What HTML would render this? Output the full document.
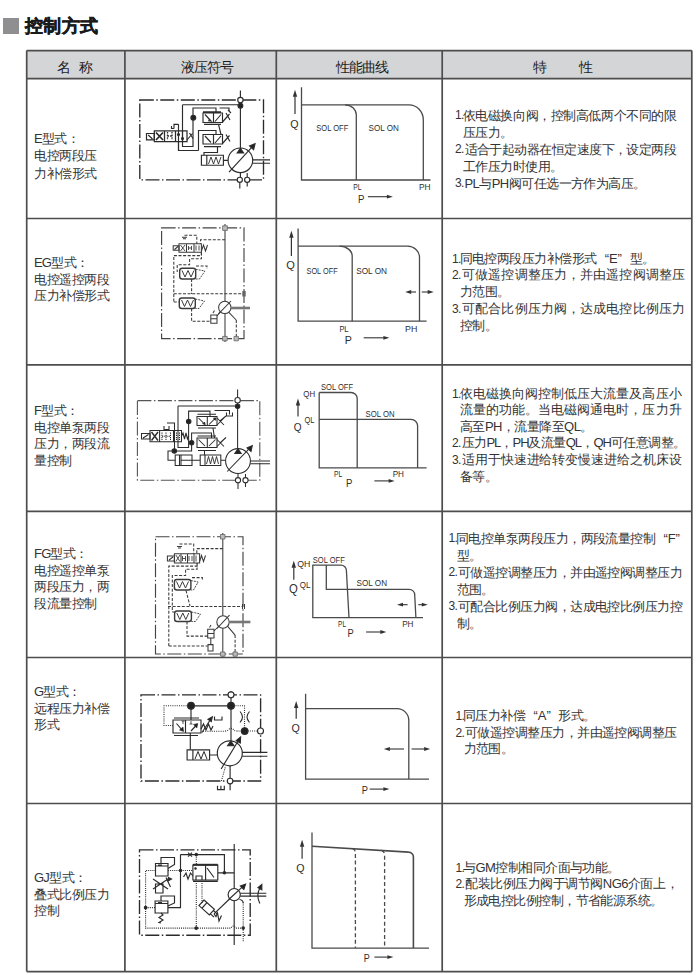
<!DOCTYPE html>
<html><head><meta charset="utf-8">
<style>
html,body{margin:0;padding:0;background:#fff;}
body{width:700px;height:975px;position:relative;overflow:hidden;font-family:"Liberation Sans",sans-serif;color:#333;}
.a{position:absolute;white-space:nowrap;}
.t{font-size:13px;line-height:16.7px;}
.nm{letter-spacing:-0.5px;}
.nm b{font-weight:normal;letter-spacing:-0.8px;}
.ft i{font-style:normal;display:inline-block;vertical-align:top;font-size:12px;letter-spacing:-0.6px;}
.ft i.n1{width:7.5px;}
.ft i.n2{width:9.5px;}
.ft{letter-spacing:-0.55px;}
.ft .c{padding-left:8px;}
.ft .j{text-align:justify;text-align-last:justify;}
.ft b{font-weight:normal;letter-spacing:-1.1px;}
.q1,.q2{display:inline-block;width:12.5px;vertical-align:top;}
.q1{text-align:right;text-align-last:right;padding-right:0.5px;width:12px;}
.q2{text-align:left;text-align-last:left;padding-left:0.5px;width:12px;}
.hd{font-size:14px;line-height:16px;color:#1e1e1e;}
svg{position:absolute;left:0;top:0;}
</style></head><body>
<div class="a" style="left:3px;top:18px;width:16px;height:15.5px;background:#8f8f91;"></div>
<div class="a" style="left:24.5px;top:14.7px;font-size:18px;line-height:22px;letter-spacing:0.6px;font-weight:bold;-webkit-text-stroke:0.45px #1a1a1a;color:#1a1a1a;">控制方式</div>

<svg width="700" height="975" viewBox="0 0 700 975">
<rect x="26.7" y="50.5" width="665" height="28.2" fill="#d4d5d7"/>
<g stroke="#4d4d4d" stroke-width="1.7" fill="none">
<path d="M26.7 50.6H691.8M26.7 78.6H691.8M26.7 218.5H691.8M26.7 364.8H691.8M26.7 511.3H691.8M26.7 657.5H691.8M26.7 803.5H691.8M26.7 971.6H691.8"/>
<path d="M26.7 50.6V971.6M124.9 50.6V971.6M276.3 50.6V971.6M442.2 50.6V971.6M691.8 50.6V971.6"/>
</g>
<!--CURVES-->
<g stroke="#4a4a4a" stroke-width="1.3" fill="none">
<path d="M301.5 87.3V180H430.5"/>
<path d="M301.5 104.8H409A14.3 15 0 0 1 423.3 119.8V180"/>
<path d="M345 104.8A11.3 10 0 0 1 356.3 114.8V180"/>
<path d="M298.1 228.4V321.2H426.6"/>
<path d="M298.1 246.2H407.6A12 11 0 0 1 419.5 257.2V321.2"/>
<path d="M339.6 246.2A12.6 10 0 0 1 352.2 256.2V321.2"/>
<path d="M319.2 392.5V467.9H426.6"/>
<path d="M319.2 392.5H351A6.2 6 0 0 1 357.2 398.5V467.9"/>
<path d="M319.2 419.3H411A6.6 6.5 0 0 1 417.6 425.8V467.9"/>
<path d="M312.8 564.8V617.7H423"/>
<path d="M312.8 565.1H341A5.4 5.5 0 0 1 346.4 570.6L349 617.7"/>
<path d="M326.3 565.1V589.3H409A5.6 5.5 0 0 1 414.7 594.8L415.9 617.7"/>
<path d="M305.6 693.8V779.1H429"/>
<path d="M305.6 708.7H397A11.8 11.8 0 0 1 408.8 720.5V779.1"/>
<path d="M312 832.6V948.1H429"/>
<path d="M312 846.2L408.5 852.1A4.9 5 0 0 1 413.4 857.1V948.1" stroke-width="1.6"/>
<path d="M352.5 848.6Q355.4 849.5 355.4 853V948" stroke-dasharray="4 2.6"/>
<path d="M381.5 850.4Q384.6 851.5 384.6 855V948" stroke-dasharray="4 2.6"/>
</g>
<g><path d="M295 114V96.2" stroke="#333" stroke-width="1.2"/><path d="M295 89.7L297.2 96.7L292.8 96.7Z" fill="#333"/><path d="M367.9 196.7H387.4" stroke="#333" stroke-width="1.1"/><path d="M392.9 196.7L386.9 194.79999999999998L386.9 198.6Z" fill="#333"/><path d="M291.4 255.9V237.2" stroke="#333" stroke-width="1.2"/><path d="M291.4 230.7L293.59999999999997 237.7L289.2 237.7Z" fill="#333"/><path d="M363.7 337.8H383.9" stroke="#333" stroke-width="1.1"/><path d="M389.4 337.8L383.4 335.90000000000003L383.4 339.7Z" fill="#333"/><path d="M416 292H410.7" stroke="#333" stroke-width="1.1"/><path d="M405.2 292L411.2 290.1L411.2 293.9Z" fill="#333"/><path d="M421.8 292H428.2" stroke="#333" stroke-width="1.1"/><path d="M433.7 292L427.7 290.1L427.7 293.9Z" fill="#333"/><path d="M298 416.6V404.9" stroke="#333" stroke-width="1.2"/><path d="M298 398.4L300.2 405.4L295.8 405.4Z" fill="#333"/><path d="M374.4 480.9H389.1" stroke="#333" stroke-width="1.1"/><path d="M394.6 480.9L388.6 479.0L388.6 482.79999999999995Z" fill="#333"/><path d="M293.8 579.8V567.3" stroke="#333" stroke-width="1.2"/><path d="M293.8 560.8L296.0 567.8L291.6 567.8Z" fill="#333"/><path d="M366.1 632H380.8" stroke="#333" stroke-width="1.1"/><path d="M386.3 632L380.3 630.1L380.3 633.9Z" fill="#333"/><path d="M407.6 604.7H402.5" stroke="#333" stroke-width="1.1"/><path d="M397 604.7L403 602.8000000000001L403 606.6Z" fill="#333"/><path d="M418.3 604.7H422.3" stroke="#333" stroke-width="1.1"/><path d="M427.8 604.7L421.8 602.8000000000001L421.8 606.6Z" fill="#333"/><path d="M296.2 718.7V707.4" stroke="#333" stroke-width="1.2"/><path d="M296.2 700.9L298.4 707.9L294.0 707.9Z" fill="#333"/><path d="M369.7 789.1H383.9" stroke="#333" stroke-width="1.1"/><path d="M389.4 789.1L383.4 787.2L383.4 791.0Z" fill="#333"/><path d="M404 749H389.4" stroke="#333" stroke-width="1.1"/><path d="M383.9 749L389.9 747.1L389.9 750.9Z" fill="#333"/><path d="M411.6 749H424.6" stroke="#333" stroke-width="1.1"/><path d="M430.1 749L424.1 747.1L424.1 750.9Z" fill="#333"/><path d="M302.1 858.7V846.3" stroke="#333" stroke-width="1.2"/><path d="M302.1 839.8L304.3 846.8L299.90000000000003 846.8Z" fill="#333"/><path d="M374.4 957.1H387.9" stroke="#333" stroke-width="1.1"/><path d="M393.4 957.1L387.4 955.2L387.4 959.0Z" fill="#333"/></g>
<g fill="#2e2e2e" font-family="Liberation Sans, sans-serif"><text x="290.2" y="127.6" font-size="11" textLength="8.3" lengthAdjust="spacingAndGlyphs">Q</text><text x="316.3" y="131.3" font-size="8.6" textLength="32.0" lengthAdjust="spacingAndGlyphs">SOL OFF</text><text x="368.5" y="131.3" font-size="8.6" textLength="30.3" lengthAdjust="spacingAndGlyphs">SOL ON</text><text x="353.3" y="189.6" font-size="9.6" textLength="8.3" lengthAdjust="spacingAndGlyphs">PL</text><text x="419" y="189.6" font-size="9.6" textLength="11.5" lengthAdjust="spacingAndGlyphs">PH</text><text x="357.9" y="202.6" font-size="11.5" textLength="6.4" lengthAdjust="spacingAndGlyphs">P</text><text x="286.3" y="269" font-size="10.8" textLength="8.6" lengthAdjust="spacingAndGlyphs">Q</text><text x="306.5" y="273.6" font-size="8.7" textLength="31.2" lengthAdjust="spacingAndGlyphs">SOL OFF</text><text x="356.2" y="273.6" font-size="8.7" textLength="30.8" lengthAdjust="spacingAndGlyphs">SOL ON</text><text x="339.4" y="331.8" font-size="9.6" textLength="9.1" lengthAdjust="spacingAndGlyphs">PL</text><text x="405" y="331.8" font-size="9.6" textLength="12.3" lengthAdjust="spacingAndGlyphs">PH</text><text x="344.8" y="344.2" font-size="11.5" textLength="7.1" lengthAdjust="spacingAndGlyphs">P</text><text x="321" y="390.2" font-size="8.6" textLength="32" lengthAdjust="spacingAndGlyphs">SOL OFF</text><text x="303.3" y="396.6" font-size="8.6" textLength="11.8" lengthAdjust="spacingAndGlyphs">QH</text><text x="304.5" y="423.2" font-size="8.6" textLength="9.9" lengthAdjust="spacingAndGlyphs">QL</text><text x="365.6" y="416.8" font-size="8.6" textLength="29.0" lengthAdjust="spacingAndGlyphs">SOL ON</text><text x="293.8" y="431" font-size="11" textLength="7.8" lengthAdjust="spacingAndGlyphs">Q</text><text x="334.1" y="476.6" font-size="8.6" textLength="8.3" lengthAdjust="spacingAndGlyphs">PL</text><text x="392.7" y="477.3" font-size="8.6" textLength="11.3" lengthAdjust="spacingAndGlyphs">PH</text><text x="346" y="486.8" font-size="11.5" textLength="6.4" lengthAdjust="spacingAndGlyphs">P</text><text x="312.8" y="562.6" font-size="8.6" textLength="32.0" lengthAdjust="spacingAndGlyphs">SOL OFF</text><text x="297.3" y="566.6" font-size="8.6" textLength="13.1" lengthAdjust="spacingAndGlyphs">QH</text><text x="289" y="593" font-size="12" textLength="8.8" lengthAdjust="spacingAndGlyphs">Q</text><text x="299.7" y="588" font-size="8.6" textLength="10.7" lengthAdjust="spacingAndGlyphs">QL</text><text x="356.6" y="585.6" font-size="8.6" textLength="30.4" lengthAdjust="spacingAndGlyphs">SOL ON</text><text x="338.1" y="626.6" font-size="8.6" textLength="7.9" lengthAdjust="spacingAndGlyphs">PL</text><text x="402.2" y="627.4" font-size="8.6" textLength="11.3" lengthAdjust="spacingAndGlyphs">PH</text><text x="347.6" y="637" font-size="11.5" textLength="6.2" lengthAdjust="spacingAndGlyphs">P</text><text x="291.4" y="732.3" font-size="11" textLength="8.3" lengthAdjust="spacingAndGlyphs">Q</text><text x="361.8" y="794.3" font-size="11" textLength="6.2" lengthAdjust="spacingAndGlyphs">P</text><text x="296.2" y="871.7" font-size="11" textLength="8.3" lengthAdjust="spacingAndGlyphs">Q</text><text x="363.7" y="961.7" font-size="11" textLength="6.0" lengthAdjust="spacingAndGlyphs">P</text></g>
<!--/CURVES-->
<!--SYM1--><g id="s1" stroke="#2b2b2b" stroke-width="1.15" fill="none">
<path d="M139.8 100H263.5V179.8H139.8Z" stroke-dasharray="14 2.5 1.5 2.5" stroke-width="1.35"/>
<path d="M240.4 90.5V148"/>
<circle cx="240.4" cy="100" r="2.7" fill="#fff"/>
<circle cx="240.4" cy="105.8" r="2.4" fill="#222"/>
<path d="M182.5 104.7H238M182.5 104.7V146.5H193V108H216V113M219.5 108H229V111"/>
<circle cx="193.3" cy="117.8" r="2.4" fill="#222"/>
<path d="M203 113H222.5V122.5H203ZM213.5 113V122.5M203 111.8H221M204 124.3H221"/>
<path d="M205 114.5L211 121M208.5 118.8L211 121L208 120.8M215 121.5L221 114.5"/>
<path d="M222.5 122L229.5 114M226 113L230 120M228 110L231 113"/>
<path d="M218.5 124.3L221 134.5"/>
<path d="M203 134.5H222.5V144H203ZM213.5 134.5V144M204 146.6H221"/>
<path d="M205 136L211 142.5M215 143L221 136"/>
<path d="M222.5 143.5L229.5 135.5M226 134.5L230 141.5"/>
<path d="M198.5 150.5V130.5H216V134.5M198.5 150.5H178.5V141.2"/>
<path d="M217.5 146V152.5H204V155.2"/>
<path d="M154.3 130.8H187V141.5H154.3ZM164.5 130.8V141.5M175.5 130.8V141.5" stroke-width="1.25"/>
<path d="M146.5 133.5H154.3V139.8H146.5ZM148.2 135L152.5 139" stroke-width="1.2"/>
<path d="M156 132.5L163 140M163 132.5L156 140" stroke-width="1.7"/>
<path d="M167.5 132V140M172 132V140M167.5 136H172" stroke-dasharray="1.6 1" stroke-width="1.3"/><path d="M178.5 124.3V150.5M182.5 131V141"/><circle cx="178.5" cy="134.5" r="1" fill="#222"/><circle cx="182.5" cy="138.5" r="1" fill="#222"/>
<path d="M187 140L192.5 133.5M189.5 133L193 138.5"/>
<path d="M178.5 124.3H174V128.5M171.5 126V128.5H174"/>
<circle cx="240.4" cy="160.3" r="12.3" fill="#fff"/>
<path d="M240.4 148.3L243.6 153L237.2 153Z" fill="#222"/>
<path d="M229 172.2L251.5 147.6"/>
<path d="M255 143.8L253.6 149.6L249.6 146Z" fill="#222"/>
<path d="M252.6 159.8H270M252.6 163.2H270"/>
<path d="M201.4 155.2H223.4V165.2H201.4ZM206.8 155.2V165.2M223.4 160.3H228"/>
<path d="M208.5 164L211 157L213.5 164L216 157L218.5 164L221 157" stroke-width="0.9"/>
<path d="M240.4 172.6V177.2M239.8 182.4V188.5M247.2 173V177M247.2 182.5V186.5" />
<circle cx="239.8" cy="179.8" r="2.6" fill="#fff"/>
<circle cx="247.2" cy="179.8" r="2.6" fill="#fff"/>
</g>
<!--/SYM1-->
<!--SYM2--><g id="s2" stroke="#3a3a3a" stroke-width="1.05" fill="none">
<path d="M161.6 227.9H244V338.6H161.6Z" stroke-dasharray="14 2.5 1.5 2.5" stroke-width="1.15" stroke="#444"/>
<path d="M225 224V342"/>
<path d="M222.6 225.8H227.4V230.4H222.6Z" fill="#bbb" stroke="#666" stroke-width="0.8"/>
<g stroke-dasharray="3 1.6">
<path d="M225 239.8H200.5V243.7"/>
<path d="M184.5 235.3H196.8V243.7"/>
<path d="M173.8 301.5V255.6H201.4V252.3"/>
<path d="M201.4 252.3V258.8H189.6V264.8H177.2V272"/>
<path d="M173.8 302H179.3"/>
<path d="M173.8 293.7H243"/>
<path d="M191.6 279V294M191.6 308.5V321.2H211"/>
<path d="M196 266H207V269"/>
<path d="M236.3 320V338"/>
</g>
<path d="M182 237.3H187M183 238.8H186"/>
<path d="M179 243.7H201.4V252.3H179ZM186.5 243.7V252.3M194 243.7V252.3"/>
<path d="M173.2 245.8H179V250.3H173.2ZM174.5 249.5L178 246.5"/>
<path d="M180.5 245L185 251M185 245L180.5 251M188.5 246V250M191.5 246V250M188.5 248H191.5M196 245.5V250.5M199 245.5V250.5" stroke-width="0.9"/>
<path d="M201.4 251L203.5 245L205.5 251L207.5 245"/>
<rect x="179.7" y="268.3" width="16" height="10.7" rx="2.5" stroke-width="1.4"/><path d="M195.7 269.3L205 271L199.5 279H195.7" stroke-width="0.9" stroke-dasharray="2 1"/>
<path d="M182 270.5L185 277L188 270.5L191 277L194 270.5" stroke-width="1"/>
<rect x="179.3" y="298" width="16" height="10.5" rx="2.5" stroke-width="1.4"/><path d="M195.3 299L204.5 301L199 308.5H195.3" stroke-width="0.9" stroke-dasharray="2 1"/>
<path d="M181.5 300L184.5 306.5L187.5 300L190.5 306.5L193.5 300" stroke-width="1"/>
<path d="M243 291V296.5M245 291V296.5"/>
<path d="M210.8 315H217V323.2H210.8ZM210.8 318.8H217M213 313L214.5 310.5"/>
<circle cx="224.8" cy="307.4" r="6.2" fill="#fff"/>
<path d="M218.5 313.8L231 301"/>
<path d="M230.8 308H250" stroke-width="2.6" stroke="#777"/>
<path d="M220.8 311.2L217 316M228.6 312.2L236.2 320"/>
<path d="M222.6 336.4H227.2V340.8H222.6ZM234 336.4H238.4V340.8H234Z" fill="#bbb" stroke="#666" stroke-width="0.8"/>
</g>
<!--/SYM2-->
<!--SYM3--><g id="s3" stroke="#2b2b2b" stroke-width="1.05" fill="none">
<path d="M137.4 400.6H259.8V480.2H137.4Z" stroke-dasharray="14 2.5 1.5 2.5" stroke-width="1.1" stroke="#555"/>
<path d="M237.6 389.5V449"/>
<circle cx="237.6" cy="400.3" r="2.7" fill="#fff"/>
<circle cx="237.6" cy="406.2" r="2.25" fill="#222"/>
<path d="M178 406H235M178 406V447.5H188.6V411.1H210V416.5M214.5 410.5H229.5V414.5M226.5 412.5V416H232.5V412.5"/>
<circle cx="188.7" cy="421.5" r="2.25" fill="#222"/>
<path d="M197 416.5H217V425.5H197ZM207.3 416.5V425.5M197.5 414.3H216M198 428H216" />
<path d="M198.5 418L205 424.5M202.5 423.5L205 424.5L204.5 422M209 424.5L215.5 418M213.2 418.2L215.5 418L215.3 420.5"/>
<path d="M217 418L224 425M217 425L224 418M220 421L226 416"/>
<path d="M213 428L214.5 438"/>
<path d="M197 438H217V447.5H197ZM207.3 438V447.5M197.5 436H216M198 450.5H216"/>
<path d="M198.5 439.5L205 446M209 446L215.5 439.5"/>
<path d="M217 439.5L224 446.5M217 446.5L224 439.5M220 443L226 437.5"/>
<path d="M191.6 442.8V433H211.5V438M191.6 442.8V451H174.3"/>
<circle cx="191.6" cy="442.8" r="2.25" fill="#222"/>
<path d="M150 430.5H181.5V441.8H150ZM159.6 430.5V441.8M173.5 430.5V441.8"/>
<path d="M141.5 433.4H150V439H141.5ZM143 438L148.5 434.5"/>
<path d="M151.5 432L158 440.5M158 432L151.5 440.5" stroke-width="1.4"/>
<path d="M162 432.5V440M166 432.5V440M162 436.2H170.5M170.5 432.5V440M176.5 432.5V440M179.5 432.5V440" stroke-dasharray="1.3 0.9"/>
<path d="M181.5 436L183 433L184.5 439L186 433L187.5 439L188.6 436"/>
<path d="M167 423H174.5V451.5M164 426V429.5H169V426"/>
<circle cx="174.3" cy="451" r="2.25" fill="#222"/>
<path d="M174.3 451H168V460.2H175.2"/>
<path d="M175.2 455H192V465.5H175.2ZM179.5 455V465.5M181 455V465.5M181 460.2H192M192 460.2H200.2"/>
<path d="M200.2 455H220.8V465.5H200.2ZM205 455V465.5M220.8 460.2H225.7"/>
<path d="M206.5 464L208.5 456.5L210.5 464L212.5 456.5L214.5 464L216.5 456.5L218.5 464" stroke-width="0.9"/>
<path d="M204.5 450.5V455"/>
<circle cx="238" cy="461" r="12.4" fill="#fff"/>
<path d="M238 448.8L241.2 453.5L234.8 453.5Z" fill="#222"/>
<path d="M227.2 471.5L249 448.8"/>
<path d="M252.3 445.6L251 451.5L247 447.8Z" fill="#222"/>
<path d="M250.5 461H270M250.5 463.8H270"/>
<path d="M238 473.4V477.6M238 482.8V489M245.5 474V477.6M245.5 482.8V487"/>
<circle cx="238" cy="480.2" r="2.6" fill="#fff"/>
<circle cx="245.5" cy="480.2" r="2.6" fill="#fff"/>
</g>
<!--/SYM3-->
<!--SYM4--><g id="s4" stroke="#3a3a3a" stroke-width="1.05" fill="none">
<path d="M155.5 536.7H243V654H155.5Z" stroke-dasharray="14 2.5 1.5 2.5" stroke-width="1.15" stroke="#444"/>
<path d="M222.8 533V657"/>
<path d="M220.5 534.5H225V539H220.5Z" fill="#bbb" stroke="#666" stroke-width="0.8"/>
<g stroke-dasharray="3 1.6">
<path d="M222.8 548.6H196.8V553.8"/>
<path d="M179.5 544H193.7V553.8"/>
<path d="M168.8 646V566.1H197.1V562.9"/>
<path d="M197.1 562.9V569.2H185.6V575.5H172.3V612"/>
<path d="M172.3 612H174.6"/>
<path d="M168 606.4H243"/>
<path d="M186 590.5L190 606M187 621.5V636.1H207.7M168.8 646H207.7"/>
<path d="M192 577.6H202.4V580"/>
<path d="M235.1 635.1V657"/>
</g>
<path d="M177 546.5H182M178 548H181"/>
<path d="M174.4 553.8H194V562.9H174.4ZM181 553.8V562.9M187.5 553.8V562.9M194 553.8H199.6V562.9H194"/>
<path d="M167.4 556H174.4V561H167.4ZM169 560L173 557"/>
<path d="M175.8 555L180 561.5M180 555L175.8 561.5M182.5 556V561M185.5 556V561M182.5 558.5H185.5M189 556V561M192 556V561M196 555.5V561.5" stroke-width="0.9"/>
<path d="M199.6 561.5L201.5 555.5L203.5 561.5L205.5 555.5"/>
<rect x="174.4" y="579.5" width="16.5" height="10.5" rx="2.5" stroke-width="1.4"/><path d="M190.9 580.5L198.2 582L193.5 590H190.9" stroke-width="0.9" stroke-dasharray="2 1"/>
<path d="M176.5 581.5L179.5 588L182.5 581.5L185.5 588L188.5 581.5" stroke-width="1"/>
<rect x="174.6" y="611" width="16.8" height="10.5" rx="2.5" stroke-width="1.4"/><path d="M191.4 612L200.5 614L195.5 621.5H191.4" stroke-width="0.9" stroke-dasharray="2 1"/>
<path d="M176.8 613L179.8 619.5L182.8 613L185.8 619.5L188.8 613" stroke-width="1"/>
<path d="M242.5 604V609M244.5 604V609"/>
<path d="M207.7 629.3H214V638H207.7ZM207.7 633.5H214M210.8 638V644.6M208 644.6H213V651H208ZM209.5 627.5L211 625"/>
<circle cx="223" cy="622" r="6.2" fill="#fff"/>
<path d="M217 628.5L229.5 615.2"/>
<path d="M229.2 622H250.4" stroke-width="2.6" stroke="#777"/>
<path d="M219 626L214 631M227.5 626.2L235.1 635.1"/>
<path d="M220.5 652H225V656.2H220.5ZM233 652H237.3V656.2H233Z" fill="#bbb" stroke="#666" stroke-width="0.8"/>
</g>
<!--/SYM4-->
<!--SYM5--><g id="s5" stroke="#2b2b2b" stroke-width="1.15" fill="none">
<path d="M141 694.8H260.6V781H141Z" stroke-dasharray="14 2.5 1.5 2.5" stroke-width="1.35"/>
<path d="M231 691V741"/>
<path d="M191 705.8H231M191 705.8V720"/>
<g stroke-dasharray="1 1.2" stroke-width="1.1">
<path d="M191 705.8H164V725.5H173"/>
<path d="M231 705.8H244.5V731H260.5"/>
<path d="M203 731.2H224Q228 731 229.5 728.7Q232.5 727.5 234 730.5Q236 731.3 244.5 731"/>
<path d="M221.4 781L225.6 766"/>
</g>
<circle cx="231" cy="694.8" r="3" fill="#fff"/>
<circle cx="191" cy="705.8" r="3.4" fill="#222"/>
<circle cx="231" cy="705.8" r="3.4" fill="#222"/>
<circle cx="244.7" cy="731" r="3.3" fill="#222"/>
<circle cx="260.5" cy="731" r="3" fill="#fff"/>
<path d="M240 711.5Q245 717 240 722.5M249.5 711.5Q244.5 717 249.5 722.5" stroke-width="1.1"/>
<path d="M173 720H201V733H173ZM185.5 720V733M174 718H199M174 735.5H198"/>
<path d="M176.5 723.5L182.5 730.5M191 731L197 724.5"/>
<path d="M183.6 731.5L183 727L179.5 730Z M197.8 723.5L193.5 724.5L196.8 728Z" fill="#222" stroke-width="0.6"/>
<path d="M183 721V724M181.5 721H184.5M191 721V724M189.5 724H192.5" stroke-width="0.8"/>
<path d="M201 729L203.5 724L206 730L208.5 724L211 730L213 726"/>
<path d="M202 732.5L210.5 719.5"/>
<path d="M212.3 716.8L211.3 721.5L208 719.3Z" fill="#222"/>
<path d="M214.5 716.5V720H222V716.5"/>
<path d="M190.3 733V749.8"/>
<path d="M187.1 749.8H209.6V760H187.1ZM192.9 749.8V760M209.6 755H217.3"/>
<path d="M195 759L198 751.5L201 759L204 751.5L207 759" stroke-width="1"/>
<circle cx="229.8" cy="753.3" r="12.5" fill="#fff"/>
<path d="M230.8 741L234 745.7L227.6 745.7Z" fill="#222"/>
<path d="M221.1 769L238.3 740.8"/>
<path d="M240.6 737L240.3 743L236.2 740.6Z" fill="#222"/>
<path d="M242.2 752.4H267.4M242.2 756.2H267.4"/>
<path d="M230.1 765.8V778.2M230.1 783.8V790.3"/>
<circle cx="230.1" cy="781" r="2.8" fill="#fff"/>
<path d="M217.5 785.8V789.6H224.3V785.8M220.9 785.8V789.6"/>
</g>
<!--/SYM5-->
<!--SYM6--><g id="s6" stroke="#2b2b2b" stroke-width="1.15" fill="none">
<path d="M139.5 849.8H250.2V935.2H139.5Z" stroke-dasharray="14 2.5 1.5 2.5" stroke-width="1.35"/>
<path d="M234.2 844V945"/>
<g stroke-dasharray="1 1.1" stroke-width="1.1">
<path d="M155.5 870.5H145.6V928.1H231Q233 924 235.5 928.1H244"/>
<path d="M168 870.5H192.9"/>
<path d="M196.3 854.6V865M196.3 881V928.1M202 881V903"/>
<path d="M145.6 907.6H155.1"/>
<path d="M243.2 902.5V941.5"/>
</g>
<path d="M180.5 854.6H224.4V872.8H234.2M217.8 872.8H224.4M180.5 854.6V907.6H167.9"/>
<path d="M188 852.6L192 856.6M192 852.6L188 856.6"/>
<circle cx="196.3" cy="854.6" r="1.2" fill="#222"/>
<circle cx="224.4" cy="872.8" r="1.2" fill="#222"/>
<circle cx="180.5" cy="870.5" r="1.2" fill="#222"/>
<circle cx="145.6" cy="907.6" r="1.3" fill="#222"/>
<circle cx="196.2" cy="928.1" r="1.3" fill="#222"/>
<circle cx="243.2" cy="928.1" r="1.2" fill="#222"/>
<path d="M155.5 863.5H168V876H155.5ZM155.5 866H168M158 865H162"/>
<path d="M161 863.5V857.5H174.5V864.5L168 868.5"/>
<path d="M153 879L168 889M153 889L168 879M155.5 884H163V893H155.5ZM166 877.5L170.5 887"/>
<path d="M171.5 879L168.5 877.5L168 881Z" fill="#222"/>
<path d="M192.9 865H217.8V880H192.9ZM205.6 865V880M193 881.3H217.8M196 880V876H202V880M207 868L214 877.5"/>
<path d="M192.9 864.8H217.8" stroke-width="2"/>
<circle cx="195.5" cy="868.5" r="0.7" fill="#222"/>
<path d="M183.5 877L186 873L188 879L190.5 873L192.9 876"/>
<path d="M155.1 901H167.9V913H155.1ZM155.1 903.5H167.9M158 902.5H162"/>
<path d="M161 901V896H174.5V903L167.9 906"/>
<path d="M161 913L163 915L159 917.5L163 920L159 922.5L161 923"/>
<g transform="rotate(42 208 909)"><path d="M199 905H213V912.5H199ZM203 905V912.5M213 906.5H218M213 911H218"/></g>
<path d="M214 913.9L216 916.5L217.5 913L219 921L221.5 915.5"/>
<path d="M229.5 899L214 913.9"/>
<circle cx="234.2" cy="894.6" r="6.1" fill="#fff"/>
<path d="M228.7 899.5L243 886.4"/>
<path d="M245.5 884.2L243.8 889.4L240.4 886Z" fill="#222"/>
<path d="M240.2 893.2H266.3M240.2 896.1H266.3"/>
<path d="M259.8 903.5Q255.5 895 260.5 887"/>
<path d="M261.8 884.5L261.8 889.8L258 887.6Z" fill="#222"/>
<path d="M239.5 899.5Q243 900 243.2 903"/>
</g>
<!--/SYM6-->
</svg>

<!-- header -->
<div class="a hd" style="left:57px;top:59px;">名&nbsp;&nbsp;称</div>
<div class="a hd" style="left:180.5px;top:59px;letter-spacing:-0.8px;">液压符号</div>
<div class="a hd" style="left:335.5px;top:59px;letter-spacing:-0.8px;">性能曲线</div>
<div class="a hd" style="left:533px;top:59px;">特</div>
<div class="a hd" style="left:579px;top:59px;">性</div>

<!-- names -->
<div class="a t nm" style="left:34px;top:130.2px;line-height:17.2px;"><b>E</b>型式：<br>电控两段压<br>力补偿形式</div>
<div class="a t nm" style="left:34px;top:255px;"><b>EG</b>型式：<br>电控遥控两段<br>压力补偿形式</div>
<div class="a t nm" style="left:34px;top:403px;"><b>F</b>型式：<br>电控单泵两段<br>压力，两段流<br>量控制</div>
<div class="a t nm" style="left:34px;top:546px;"><b>FG</b>型式：<br>电控遥控单泵<br>两段压力，两<br>段流量控制</div>
<div class="a t nm" style="left:34px;top:684px;"><b>G</b>型式：<br>远程压力补偿<br>形式</div>
<div class="a t nm" style="left:34px;top:870px;"><b>GJ</b>型式：<br>叠式比例压力<br>控制</div>

<!-- features -->
<div class="a t ft" style="left:455px;top:107.2px;width:221.3px;line-height:17px;">
<div class="j"><i class="n1">1.</i>依电磁换向阀，控制高低两个不同的限</div>
<div class="c">压压力。</div>
<div class="j"><i class="n2">2.</i>适合于起动器在恒定速度下，设定两段</div>
<div class="c">工作压力时使用。</div>
<div class=""><i class="n2">3.</i>PL与PH阀可任选一方作为高压。</div>
</div>
<div class="a t ft" style="left:452px;top:250.5px;width:232.3px;line-height:16.85px;">
<div class=""><i class="n1">1.</i>同电控两段压力补偿形式<span class="q1">“</span>E<span class="q2">”</span>型。</div>
<div class="j"><i class="n2">2.</i>可做遥控调整压力，并由遥控阀调整压</div>
<div class="c">力范围。</div>
<div class="j"><i class="n2">3.</i>可配合比例压力阀，达成电控比例压力</div>
<div class="c">控制。</div>
</div>
<div class="a t ft" style="left:452px;top:385.5px;width:229.0px;line-height:16.65px;">
<div class="j"><i class="n1">1.</i>依电磁换向阀控制低压大流量及高压小</div>
<div class="c j">流量的功能。当电磁阀通电时，压力升</div>
<div class="c">高至PH，流量降至QL。</div>
<div class=""><i class="n2">2.</i>压力<b>PL</b>，<b>PH</b>及流量<b>QL</b>，<b>QH</b>可任意调整。</div>
<div class="j"><i class="n2">3.</i>适用于快速进给转变慢速进给之机床设</div>
<div class="c">备等。</div>
</div>
<div class="a t ft" style="left:448.5px;top:530px;width:233.0px;line-height:17.08px;">
<div class="j"><i class="n1">1.</i>同电控单泵两段压力，两段流量控制<span class="q1">“</span>F<span class="q2">”</span></div>
<div class="c">型。</div>
<div class="j"><i class="n2">2.</i>可做遥控调整压力，并由遥控阀调整压力</div>
<div class="c">范围。</div>
<div class="j"><i class="n2">3.</i>可配合比例压力阀，达成电控比例压力控</div>
<div class="c">制。</div>
</div>
<div class="a t ft" style="left:455.5px;top:708.4px;width:220.9px;line-height:16.3px;">
<div class=""><i class="n1">1.</i>同压力补偿<span class="q1">“</span>A<span class="q2">”</span>形式。</div>
<div class="j"><i class="n2">2.</i>可做遥控调整压力，并由遥控阀调整压</div>
<div class="c">力范围。</div>
</div>
<div class="a t ft" style="left:455.5px;top:860px;width:222.5px;line-height:16.3px;">
<div class=""><i class="n1">1.</i>与GM控制相同介面与功能。</div>
<div class="j"><i class="n2">2.</i>配装比例压力阀于调节阀NG6介面上，</div>
<div class="c">形成电控比例控制，节省能源系统。</div>
</div>
</body></html>
